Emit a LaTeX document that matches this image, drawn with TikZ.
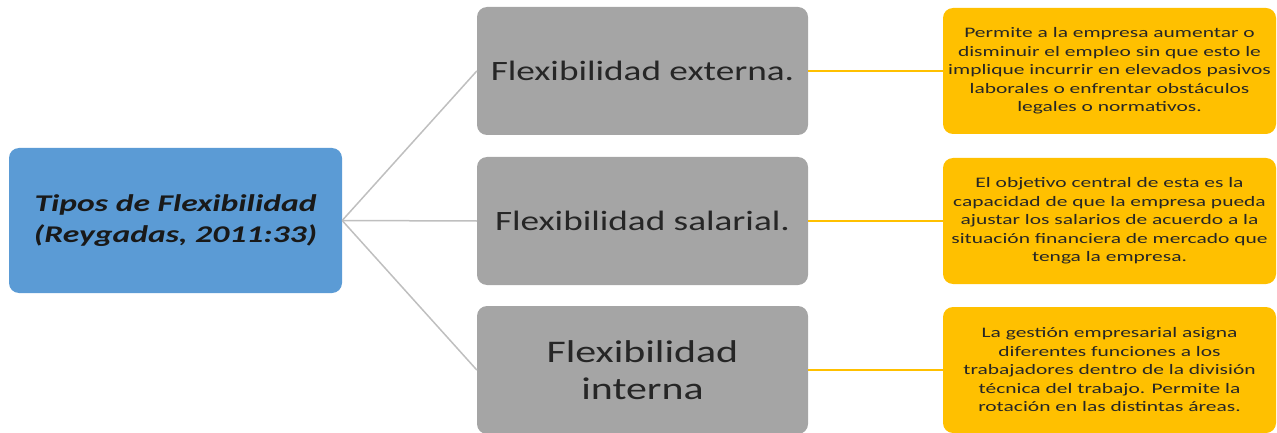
\documentclass[tikz,border=0pt]{standalone}
\usepackage{fontspec}
\setmainfont{Carlito}
\newfontfamily\fuenteraiz{Carlito}[FakeStretch=1.40]
\newfontfamily\fuentetipo{Carlito}[FakeStretch=1.33]
\newfontfamily\fuentenota{Carlito}[FakeStretch=1.48]
\usepackage{tikz}

\definecolor{azul}{HTML}{5B9BD5}
\definecolor{gris}{HTML}{A5A5A5}
\definecolor{oro}{HTML}{FFC000}
\definecolor{texto}{HTML}{262626}
\definecolor{linea}{HTML}{BFBFBF}

\tikzset{
  raiz/.style={fill=azul, rounded corners=10pt, minimum width=333pt, minimum height=145pt,
    align=center, font=\fuenteraiz\fontsize{24}{31}\selectfont\bfseries\itshape, text=black!90},
  tipo/.style={fill=gris, rounded corners=10pt, minimum width=331pt, minimum height=128pt,
    align=center, font=\fuentetipo\fontsize{28}{36}\selectfont, text=texto},
  nota/.style={fill=oro, rounded corners=10pt, minimum width=333pt, minimum height=126pt,
    align=center, font=\fuentenota\fontsize{14.5}{18.5}\selectfont, text=texto},
  rama/.style={draw=linea, line width=1.5pt},
  enlace/.style={draw=oro, line width=1.2pt}
}

\begin{document}
\begin{tikzpicture}[x=1pt,y=-1pt]
  \useasboundingbox (0,0) rectangle (1277,433);
  \node[raiz] (root) at (175.5,220.5) {Tipos de Flexibilidad\\(Reygadas, 2011:33)};

  \node[tipo] (ext) at (642.5,71) {Flexibilidad externa.};
  \node[tipo] (sal) at (642.5,221) {Flexibilidad salarial.};
  \node[tipo, font=\fuentetipo\fontsize{31.5}{37}\selectfont] (int) at (642.5,370) {Flexibilidad\\interna};

  \node[nota] (dext) at (1109.5,71) {Permite a la empresa aumentar o\\disminuir el empleo sin que esto le\\implique incurrir en elevados pasivos\\laborales o enfrentar obstáculos\\legales o normativos.};
  \node[nota] (dsal) at (1109.5,221) {El objetivo central de esta es la\\capacidad de que la empresa pueda\\ajustar los salarios de acuerdo a la\\situación financiera de mercado que\\tenga la empresa.};
  \node[nota] (dint) at (1109.5,370) {La gestión empresarial asigna\\diferentes funciones a los\\trabajadores dentro de la división\\técnica del trabajo. Permite la\\rotación en las distintas áreas.};

  \draw[rama] (root.east) -- (ext.west);
  \draw[rama] (root.east) -- (sal.west);
  \draw[rama] (root.east) -- (int.west);

  \draw[enlace] (ext.east) -- (dext.west);
  \draw[enlace] (sal.east) -- (dsal.west);
  \draw[enlace] (int.east) -- (dint.west);
\end{tikzpicture}
\end{document}
